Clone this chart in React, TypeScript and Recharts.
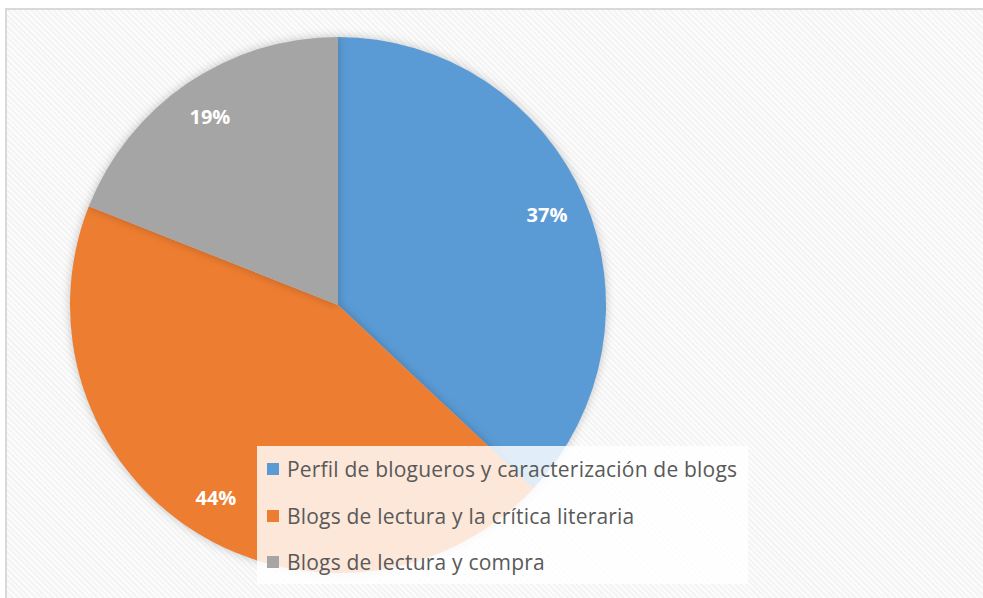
import { PieChart, Pie, Cell, Legend } from "recharts";

const categories = [
  "Perfil de blogueros y caracterización de blogs",
  "Blogs de lectura y la crítica literaria",
  "Blogs de lectura y compra",
];
const shares = [37, 44, 19];
const colors = ["#5B9BD5", "#ED7D31", "#A5A5A5"];

const data = categories.map((name, i) => ({ name, value: shares[i] }));

const RAD = Math.PI / 180;

function renderLabel(props: any) {
  const { cx, cy, midAngle, outerRadius, value } = props;
  const r = outerRadius * 0.85;
  const x = cx + r * Math.cos(-midAngle * RAD);
  const y = cy + r * Math.sin(-midAngle * RAD);
  return (
    <text x={x} y={y} fill="#fff" fontSize={20} fontWeight="bold" fontFamily="'Open Sans', sans-serif" textAnchor="middle" dominantBaseline="central">
      {`${value}%`}
    </text>
  );
}

function LegendBox() {
  return (
    <div
      style={{
        position: "absolute",
        left: 257,
        top: 446,
        width: 491,
        height: 138,
        background: "rgba(255,255,255,0.82)",
        boxSizing: "border-box",
      }}
    >
      {categories.map((c, i) => (
        <div key={c} style={{ display: "flex", alignItems: "center", height: 46.5, paddingLeft: 10 }}>
          <span style={{ width: 12, height: 12, background: colors[i], marginRight: 8, display: "inline-block", flex: "none" }} />
          <span style={{ fontSize: 21, letterSpacing: 0.2, color: "#595959", fontFamily: "'Open Sans', sans-serif", whiteSpace: "nowrap" }}>{c}</span>
        </div>
      ))}
    </div>
  );
}

export default function App() {
  return (
    <div style={{ position: "absolute", left: 0, top: 0, width: 983, height: 598, overflow: "hidden", background: "#fff" }}>
      <style>{`.pie-shadow .recharts-pie-sector { filter: drop-shadow(0 0 5px rgba(0,0,0,0.22)); }`}</style>
      <div
        style={{
          position: "absolute",
          left: 5,
          top: 8,
          width: 990,
          height: 600,
          borderTop: "2px solid #d9d9d9",
          borderLeft: "2px solid #d9d9d9",
          background: "repeating-linear-gradient(45deg, #f4f4f4 0px, #f4f4f4 2px, #fcfcfc 2px, #fcfcfc 4px)",
        }}
      />
      <div className="pie-shadow" style={{ position: "absolute", left: 0, top: 0 }}>
        <PieChart width={983} height={598} margin={{ top: 0, right: 0, bottom: 0, left: 0 }}>
          <Pie
            data={data}
            dataKey="value"
            nameKey="name"
            cx={338}
            cy={305}
            outerRadius={268}
            startAngle={90}
            endAngle={-270}
            stroke="none"
            label={renderLabel}
            labelLine={false}
            isAnimationActive={false}
          >
            {data.map((d, i) => (
              <Cell key={d.name} fill={colors[i]} />
            ))}
          </Pie>
          <Legend content={() => null} />
        </PieChart>
      </div>
      <LegendBox />
    </div>
  );
}
